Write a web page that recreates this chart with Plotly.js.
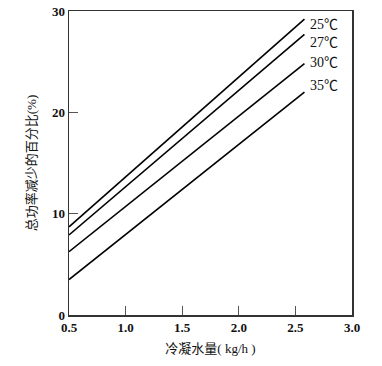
<!DOCTYPE html>
<html><head><meta charset="utf-8">
<script src="https://cdn.plot.ly/plotly-3.0.1.min.js"></script>
<style>html,body{margin:0;padding:0;background:#fff}</style>
</head><body><div id="chart" style="width:382px;height:366px"></div>
<script>
const seriesNames = ["25℃", "27℃", "30℃", "35℃"];
const xValues = [0.5, 2.58];
const y25 = [8.7, 29.2];
const y27 = [7.9, 27.7];
const y30 = [6.25, 24.8];
const y35 = [3.5, 22.0];
const labelY = [28.7, 26.9, 24.95, 22.6];
const labelX = 2.61;
const xTicks = [0.5, 1.0, 1.5, 2.0, 2.5, 3.0];
const xTickText = ["0.5", "1.0", "1.5", "2.0", "2.5", "3.0"];
const yTicks = [0, 10, 20, 30];

const allY = [y25, y27, y30, y35];
const traces = allY.map((ys, i) => ({
  x: xValues, y: ys, type: "scatter", mode: "lines", name: seriesNames[i],
  line: {color: "#000", width: 1.6}, showlegend: false, hoverinfo: "skip"
}));

const serif = "Liberation Serif, Times New Roman, serif";
const mixed = "Liberation Serif, Noto Sans CJK SC, serif";
const annotations = seriesNames.map((n, i) => ({
  x: labelX, y: labelY[i], xref: "x", yref: "y", text: n, showarrow: false,
  xanchor: "left", yanchor: "middle", font: {family: mixed, size: 14, color: "#111"}
}));

const layout = {
  width: 382, height: 366,
  margin: {l: 68.5, r: 29.5, t: 11, b: 51},
  paper_bgcolor: "#fff", plot_bgcolor: "#fff",
  xaxis: {
    range: [0.5, 3.0], tickvals: xTicks, ticktext: xTickText,
    ticks: "inside", ticklen: 9, tickwidth: 1, tickcolor: "#555",
    showline: true, mirror: true, linecolor: "#333", linewidth: 1.5,
    showgrid: false, zeroline: false,
    tickfont: {family: serif, size: 13, color: "#111", weight: "bold"},
    title: {text: "冷凝水量( kg/h )", standoff: 10, font: {family: mixed, size: 13, color: "#111"}}
  },
  yaxis: {
    range: [0, 30], tickvals: yTicks,
    ticks: "inside", ticklen: 9, tickwidth: 1, tickcolor: "#555",
    showline: true, mirror: true, linecolor: "#333", linewidth: 1.5,
    showgrid: false, zeroline: false,
    tickfont: {family: serif, size: 13, color: "#111", weight: "bold"},
    title: {text: "总功率减少的百分比(%)", standoff: 12, font: {family: mixed, size: 13, color: "#111"}}
  },
  annotations: annotations
};
Plotly.newPlot("chart", traces, layout, {displayModeBar: false, staticPlot: true});
</script></body></html>
